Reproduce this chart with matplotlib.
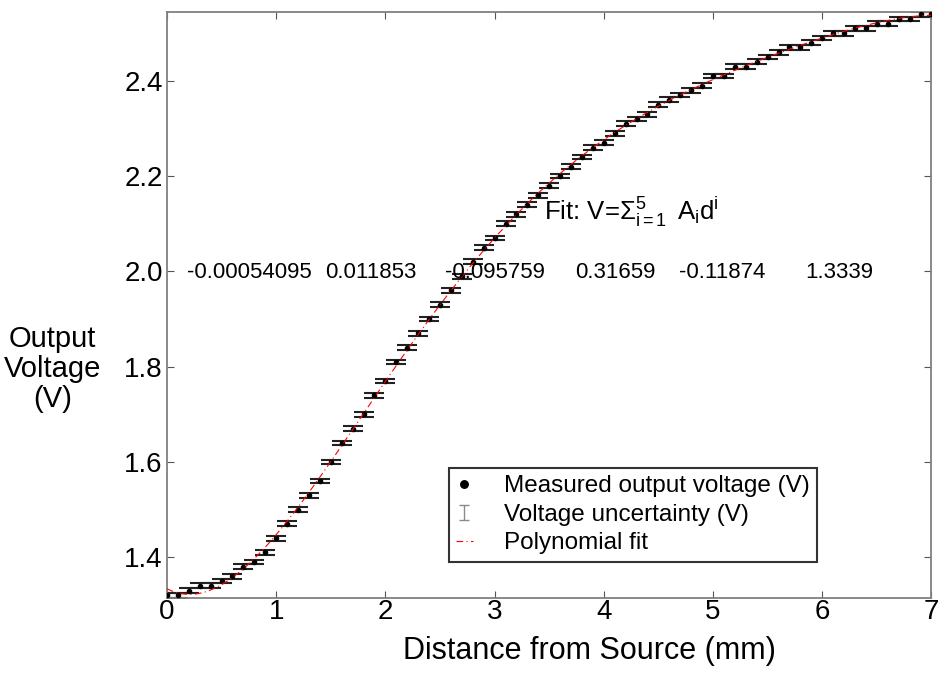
import matplotlib
matplotlib.use("Agg")
import matplotlib.pyplot as plt
from matplotlib.legend_handler import HandlerErrorbar
import numpy as np

plt.rcParams['font.family'] = ['Liberation Sans', 'DejaVu Sans']
plt.rcParams['mathtext.fontset'] = 'custom'
plt.rcParams['mathtext.rm'] = 'Liberation Sans'
plt.rcParams['mathtext.it'] = 'Liberation Sans'
plt.rcParams['mathtext.bf'] = 'Liberation Sans:bold'

# distance from source (mm) and measured output voltage (V)
distance = [0.0, 0.1, 0.2, 0.3, 0.4, 0.5, 0.6, 0.7, 0.8, 0.9,
            1.0, 1.1, 1.2, 1.3, 1.4, 1.5, 1.6, 1.7, 1.8, 1.9,
            2.0, 2.1, 2.2, 2.3, 2.4, 2.5, 2.6, 2.7, 2.8, 2.9,
            3.0, 3.1, 3.2, 3.3, 3.4, 3.5, 3.6, 3.7, 3.8, 3.9,
            4.0, 4.1, 4.2, 4.3, 4.4, 4.5, 4.6, 4.7, 4.8, 4.9,
            5.0, 5.1, 5.2, 5.3, 5.4, 5.5, 5.6, 5.7, 5.8, 5.9,
            6.0, 6.1, 6.2, 6.3, 6.4, 6.5, 6.6, 6.7, 6.8, 6.9, 7.0]
voltage = [1.32, 1.32, 1.33, 1.34, 1.34, 1.35, 1.36, 1.38, 1.39, 1.41,
           1.44, 1.47, 1.50, 1.53, 1.56, 1.60, 1.64, 1.67, 1.70, 1.74,
           1.77, 1.81, 1.84, 1.87, 1.90, 1.93, 1.96, 1.99, 2.02, 2.05,
           2.07, 2.10, 2.12, 2.14, 2.16, 2.18, 2.20, 2.22, 2.24, 2.26,
           2.27, 2.29, 2.31, 2.32, 2.33, 2.35, 2.36, 2.37, 2.38, 2.39,
           2.41, 2.41, 2.43, 2.43, 2.44, 2.45, 2.46, 2.47, 2.47, 2.48,
           2.49, 2.50, 2.50, 2.51, 2.51, 2.52, 2.52, 2.53, 2.53, 2.54, 2.54]
uncertainty = 0.005

# polynomial fit coefficients, highest power first (as printed on the chart)
fit_coeffs = [-0.00054095, 0.011853, -0.095759, 0.31659, -0.11874, 1.3339]
coeff_x = [0.18, 1.45, 2.55, 3.74, 4.69, 5.84]

fig = plt.figure(figsize=(9.38, 6.91), dpi=100)
ax = fig.add_axes([0.178, 0.135, 0.815, 0.848])

d = np.array(distance)
v = np.array(voltage)

ax.errorbar(d, v, yerr=uncertainty, fmt='none', ecolor='#222222',
            elinewidth=1.0, capsize=7, capthick=1.5, zorder=2)
# small grey "I" for the legend only (nan data -> nothing drawn in the axes)
eb_key = ax.errorbar([np.nan], [np.nan], yerr=uncertainty, fmt='none',
                     ecolor='#8a8a8a', elinewidth=1.0, capsize=3.5, capthick=1.0,
                     label='Voltage uncertainty (V)')
dots, = ax.plot(d, v, 'o', color='black', markersize=3, zorder=3,
                label='Measured output voltage (V)')
xf = np.linspace(0, 7, 300)
fit_line, = ax.plot(xf, np.polyval(fit_coeffs, xf), color='red', lw=0.8,
                    linestyle=(0, (6, 3, 1, 3)), zorder=4, label='Polynomial fit')

ax.text(3.45, 2.125, r'Fit: V=$\Sigma_{i=1}^{5}\,$ A$_i$d$^i$', fontsize=18.5,
        va='center', ha='left', zorder=5)
for cx, c in zip(coeff_x, fit_coeffs):
    ax.text(cx, 1.998, f'{c:.5g}', fontsize=16, va='center', ha='left', zorder=5)

ax.set_xlim(0, 7)
ax.set_ylim(1.315, 2.545)
ax.set_xticks(range(0, 8))
ax.set_yticks([1.4, 1.6, 1.8, 2.0, 2.2, 2.4])
ax.tick_params(direction='in', top=True, right=True, labelsize=20,
               length=5, color='#555555', pad=3)
ax.tick_params(axis='x', pad=1)
for s in ax.spines.values():
    s.set_color('#808080')
    s.set_linewidth(1.3)

ax.set_xlabel('Distance from Source (mm)', fontsize=22)
ax.xaxis.set_label_coords(0.553, -0.065)
ax.set_ylabel('Output\nVoltage\n(V)', fontsize=21, rotation=0,
              ha='center', va='center', linespacing=1.1)
ax.yaxis.set_label_coords(-0.15, 0.39)

leg = ax.legend(handles=[dots, eb_key, fit_line], loc='lower left',
                bbox_to_anchor=(0.3685, 0.0614), fontsize=17.5, frameon=True,
                fancybox=False, borderpad=0.3, handlelength=0.7,
                handletextpad=1.26, labelspacing=0.27, borderaxespad=0,
                markerscale=1.8,
                handler_map={eb_key: HandlerErrorbar(xerr_size=0.25, yerr_size=0.3)})
leg.get_frame().set_edgecolor('black')
leg.get_frame().set_linewidth(1.5)

fig.savefig('out.png', dpi=100)
